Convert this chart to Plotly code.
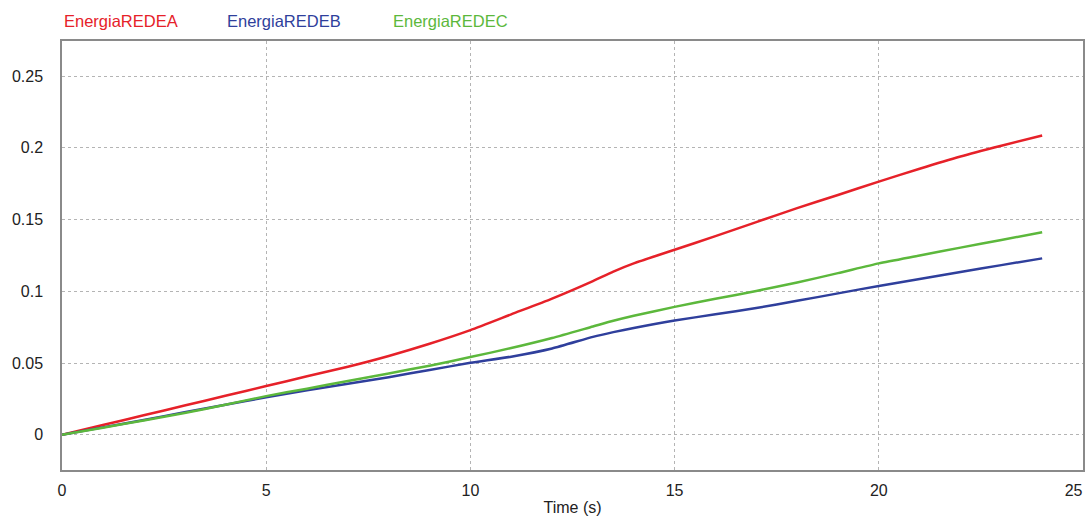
import plotly.graph_objects as go

# Simulation time (s)
time_s = [0, 1, 2, 3, 4, 5, 6, 7, 8, 9, 10, 11, 12, 13, 13.5, 14, 15, 16, 17, 18, 19, 20, 21, 22, 23, 24]

# Accumulated energy per network
energia_redea = [0, 0.0068, 0.0136, 0.0204, 0.0272, 0.0340, 0.0408, 0.0475, 0.0550, 0.0635,
                 0.0730, 0.0840, 0.0950, 0.1072, 0.1138, 0.1195, 0.1290, 0.1385, 0.1483, 0.1580,
                 0.1672, 0.1765, 0.1855, 0.1940, 0.2015, 0.2086]
energia_redeb = [0, 0.0052, 0.0104, 0.0157, 0.0210, 0.0262, 0.0310, 0.0356, 0.0402, 0.0452,
                 0.0502, 0.0545, 0.0602, 0.0683, 0.0716, 0.0745, 0.0797, 0.0840, 0.0884, 0.0934,
                 0.0986, 0.1038, 0.1086, 0.1135, 0.1183, 0.1230]
energia_redec = [0, 0.0050, 0.0100, 0.0152, 0.0210, 0.0270, 0.0322, 0.0375, 0.0428, 0.0482,
                 0.0542, 0.0605, 0.0675, 0.0755, 0.0795, 0.0830, 0.0892, 0.0948, 0.1003, 0.1062,
                 0.1127, 0.1195, 0.1250, 0.1305, 0.1358, 0.1412]

series_names = ["EnergiaREDEA", "EnergiaREDEB", "EnergiaREDEC"]
series_colors = ["#e62129", "#2f3f9c", "#5cb83c"]
series_values = [energia_redea, energia_redeb, energia_redec]

x_ticks = [0, 5, 10, 15, 20]
x_end_tick = [25]          # drawn right-aligned so it stays inside the page
y_ticks = [0, 0.05, 0.1, 0.15, 0.2, 0.25]
y_tick_text = ["0", "0.05", "0.1", "0.15", "0.2", "0.25"]

FONT = "Liberation Sans, Arial, sans-serif"
TICK_FONT = dict(family=FONT, size=16, color="#222222")

fig = go.Figure()
for name, color, vals in zip(series_names, series_colors, series_values):
    fig.add_trace(go.Scatter(x=time_s, y=vals, mode="lines", name=name,
                             line=dict(color=color, width=2.5, shape="spline", smoothing=0.6)))

# Coloured series names across the top
legend_x = [0.0, 0.16, 0.322]
for name, color, lx in zip(series_names, series_colors, legend_x):
    fig.add_annotation(text=name, x=lx, y=1.046, xref="paper", yref="paper",
                       xanchor="left", yanchor="middle", showarrow=False,
                       font=dict(family=FONT, size=16.5, color=color))

axis_common = dict(
    showline=True, linecolor="#8a8a8a", linewidth=1.5, mirror=True,
    showgrid=True, gridcolor="#b4b4b4", griddash="dot", gridwidth=1,
    zeroline=False, automargin=False,
    tickfont=TICK_FONT,
)

fig.update_layout(
    xaxis=dict(range=[0, 25], tickvals=x_ticks,
               ticks="outside", ticklen=5, tickcolor="rgba(0,0,0,0)",
               title=dict(text="Time (s)", standoff=4,
                          font=dict(family=FONT, size=16, color="#222222")),
               **axis_common),
    xaxis2=dict(range=[0, 25], overlaying="x", side="bottom", anchor="y",
                tickvals=x_end_tick, ticklabelposition="outside left",
                ticks="outside", ticklen=5, tickcolor="rgba(0,0,0,0)",
                ticklabelstandoff=6,
                showgrid=False, showline=False, zeroline=False, automargin=False,
                tickfont=TICK_FONT),
    yaxis=dict(range=[-0.0245, 0.2745], tickvals=y_ticks, ticktext=y_tick_text,
               ticks="outside", ticklen=14, tickcolor="rgba(0,0,0,0)", **axis_common),
    width=1087, height=519,
    margin=dict(l=62, r=4, t=41, b=49),
    plot_bgcolor="white", paper_bgcolor="white",
    showlegend=False,
)

# empty trace so the overlay axis carrying the end label is rendered
fig.add_trace(go.Scatter(x=[25], y=[None], xaxis="x2", yaxis="y", mode="lines",
                         showlegend=False, hoverinfo="skip"))

fig.write_html("out.html")
